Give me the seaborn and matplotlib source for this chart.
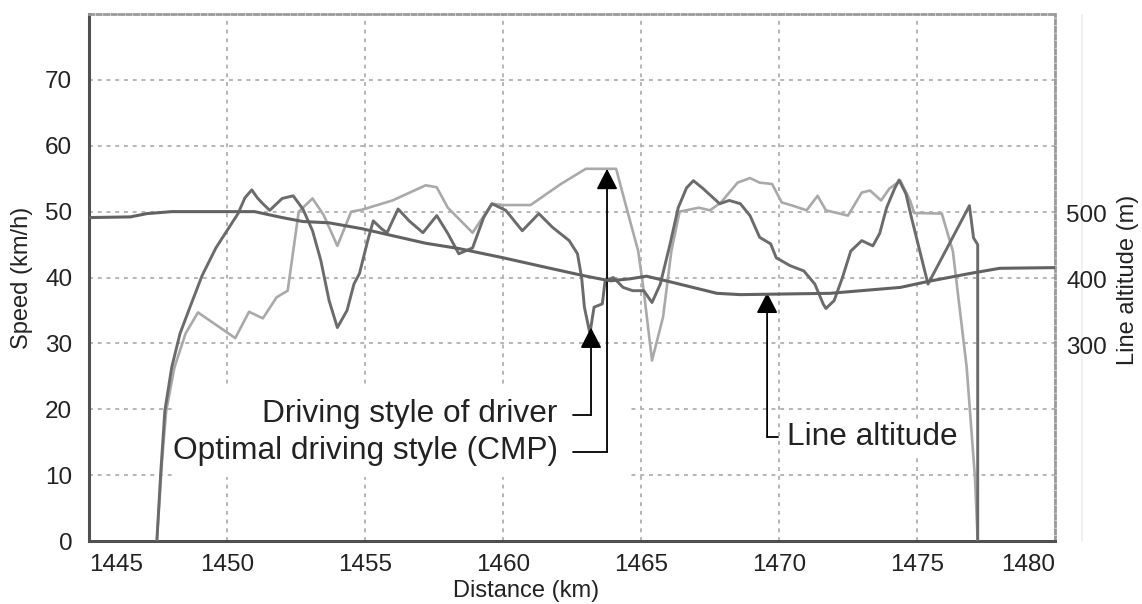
import numpy as np
import pandas as pd
import matplotlib
matplotlib.use("Agg")
import matplotlib.pyplot as plt
import seaborn as sns
from matplotlib.patches import Rectangle, ArrowStyle
from matplotlib.lines import Line2D

# ---------------- data ----------------
cmp_km = [1447.46, 1447.65, 1447.8, 1448.1, 1448.5, 1448.95, 1450.3, 1450.8, 1451.3, 1451.8,
          1452.2, 1452.4, 1452.6, 1453.1, 1453.5, 1454.0, 1454.5, 1454.9, 1456.0, 1457.2,
          1457.6, 1458.0, 1458.9, 1459.6, 1460.0, 1461.0, 1462.1, 1463.0, 1464.1, 1464.5,
          1464.9, 1465.1, 1465.4, 1465.8, 1466.1, 1466.4, 1467.1, 1467.5, 1467.9, 1468.5,
          1468.95, 1469.3, 1469.75, 1470.1, 1470.5, 1471.0, 1471.4, 1471.7, 1472.5, 1473.0,
          1473.3, 1473.7, 1474.0, 1474.4, 1474.75, 1474.9, 1475.9, 1476.3, 1476.8, 1477.1,
          1477.2]
cmp_speed = [0, 12.3, 19.8, 26.4, 31.5, 34.7, 30.8, 34.8, 33.8, 37.0,
             38.0, 44.0, 50.0, 52.0, 49.5, 44.8, 50.0, 50.3, 51.7, 54.0,
             53.7, 50.6, 46.8, 51.2, 51.0, 51.0, 54.2, 56.5, 56.5, 50.2,
             44.0, 38.0, 27.4, 34.0, 44.0, 50.0, 50.6, 50.2, 51.4, 54.4,
             55.1, 54.4, 54.2, 51.4, 50.9, 50.2, 52.4, 50.2, 49.4, 52.9,
             53.2, 51.7, 53.5, 54.7, 51.7, 49.8, 49.7, 44.0, 26.4, 9.7,
             0]

drv_km = [1447.46, 1447.6, 1447.75, 1448.0, 1448.3, 1448.66, 1449.1, 1449.6, 1450.4, 1450.65,
          1450.9, 1451.1, 1451.3, 1451.55, 1452.0, 1452.4, 1452.75, 1453.1, 1453.4, 1453.7,
          1454.0, 1454.35, 1454.6, 1454.8, 1455.1, 1455.3, 1455.6, 1455.8, 1456.2, 1456.6,
          1457.1, 1457.6, 1458.0, 1458.4, 1458.9, 1459.3, 1459.6, 1460.1, 1460.7, 1461.3,
          1461.8, 1462.4, 1462.7, 1462.85, 1462.95, 1463.15, 1463.3, 1463.6, 1463.7, 1464.0,
          1464.35, 1464.7, 1465.1, 1465.4, 1465.7, 1466.05, 1466.35, 1466.65, 1466.9, 1467.25,
          1467.85, 1468.2, 1468.6, 1468.95, 1469.3, 1469.7, 1469.9, 1470.4, 1470.9, 1471.3,
          1471.6, 1471.7, 1472.0, 1472.3, 1472.6, 1473.0, 1473.4, 1473.65, 1473.9, 1474.2,
          1474.35, 1474.6, 1474.8, 1475.4, 1476.9, 1477.05, 1477.2, 1477.2]
drv_speed = [0, 10.3, 19.8, 26.4, 31.5, 35.5, 40.3, 44.5, 49.7, 52.1,
             53.3, 52.1, 51.2, 50.2, 52.0, 52.4, 50.4, 47.1, 42.6, 36.5,
             32.4, 35.0, 39.0, 40.6, 45.6, 48.6, 47.4, 46.8, 50.4, 48.6,
             46.8, 49.4, 46.7, 43.6, 44.5, 49.1, 51.2, 50.2, 47.1, 49.7,
             47.6, 45.6, 43.6, 40.0, 35.5, 31.5, 35.5, 36.0, 39.5, 40.0,
             38.5, 38.0, 38.0, 36.2, 39.0, 45.0, 50.6, 53.6, 54.7, 53.5,
             51.2, 51.7, 51.2, 49.4, 46.1, 45.1, 43.0, 41.8, 41.0, 39.0,
             36.0, 35.3, 36.5, 40.0, 44.0, 45.6, 44.8, 46.7, 50.6, 53.6,
             54.8, 52.7, 49.1, 39.0, 50.9, 46.0, 45.0, 0]

alt_km = [1445.0, 1446.5, 1447.1, 1448.0, 1451.0, 1452.0, 1452.75, 1453.7, 1454.9, 1457.2,
          1458.4, 1460.0, 1461.6, 1462.9, 1463.5, 1463.9, 1464.6, 1465.2, 1466.2, 1467.75,
          1468.6, 1471.85, 1474.4, 1475.4, 1476.9, 1478.0, 1480.0]
alt_m = [494, 495, 500, 503, 503, 494, 488, 486, 477, 455,
         447, 433, 418, 406, 401, 398, 401, 405, 395, 379,
         377, 379, 388, 397, 409, 417, 418]

x_ticks = [1445, 1450, 1455, 1460, 1465, 1470, 1475, 1480]
speed_ticks = [0, 10, 20, 30, 40, 50, 60, 70]
alt_ticks = [300, 400, 500]

# ---------------- style ----------------
sns.set_theme(style="white")
plt.rcParams['font.family'] = ['Liberation Sans', 'DejaVu Sans']
TXT = '#222222'

fig = plt.figure(figsize=(11.42, 6.04), dpi=100)

# faint outer line at the right (behind everything)
fig.add_artist(Line2D([0.9475, 0.9475], [0.1043, 0.975], transform=fig.transFigure,
                      color='#ededed', linewidth=1.2, zorder=-5))

ax = fig.add_axes([0.0779, 0.1043, 0.8459, 0.8725])

ax.set_xlim(1445, 1480)
ax.set_ylim(0, 80)
ax.set_xticks(x_ticks)
ax.set_yticks(speed_ticks + [80])
ax.set_yticklabels([str(v) for v in speed_ticks] + [''])
ax.grid(True, color='#b5b5b5', linestyle=(0, (2, 2.5)), linewidth=1.4)
ax.set_axisbelow(True)
ax.tick_params(axis='both', length=0, labelsize=17.5, labelcolor=TXT)
ax.tick_params(axis='y', pad=12)
ax.tick_params(axis='x', pad=9)
xl = ax.get_xticklabels()
xl[0].set_horizontalalignment('left')
xl[-1].set_horizontalalignment('right')

for s in ['left', 'bottom']:
    ax.spines[s].set_color('#505050')
    ax.spines[s].set_linewidth(2.2)
for s in ['top', 'right']:
    ax.spines[s].set_color('#9a9a9a')
    ax.spines[s].set_linewidth(2.0)
    ax.spines[s].set_linestyle((0, (1.5, 1.2)))

ax.set_xlabel('Distance (km)', fontsize=17, color=TXT, va='center')
ax.set_ylabel('Speed (km/h)', fontsize=17, color=TXT, va='center')
ax.xaxis.set_label_coords(0.452, -0.095)
ax.yaxis.set_label_coords(-0.069, 0.50)

# white area behind the annotation texts (hides grid there)
ax.add_patch(Rectangle((1448.12, 9.7), 16.41, 14.2, facecolor='white',
                       edgecolor='none', zorder=1.5))

# speed curves
sns.lineplot(x=cmp_km, y=cmp_speed, ax=ax, sort=False, estimator=None,
             color='#a9a9a9', linewidth=1.9, zorder=3)
sns.lineplot(x=drv_km, y=drv_speed, ax=ax, sort=False, estimator=None,
             color='#6b6b6b', linewidth=2.1, zorder=4)

# altitude on twin axis
ax2 = ax.twinx()
ax2.set_ylim(3, 803)
ax2.set_yticks(alt_ticks)
for s in ax2.spines.values():
    s.set_visible(False)
ax2.tick_params(axis='y', length=0, labelsize=17.5, labelcolor=TXT, pad=8)
sns.lineplot(x=alt_km, y=alt_m, ax=ax2, sort=False, estimator=None,
             color='#626262', linewidth=2.2, zorder=3)
ax2.set_ylabel('Line altitude (m)', fontsize=17, color=TXT, va='center', ha='center')
ax2.yaxis.set_label_coords(1.0755, 0.495)
ax2.set_xlim(1445, 1480)

# annotations
head = ArrowStyle('-|>', head_length=0.7, head_width=0.36)
def bent_arrow(x0, y_text, x_corner, y_tip):
    ax.plot([x0, x_corner], [y_text, y_text], color='black', linewidth=1.3, zorder=6)
    ax.annotate('', xy=(x_corner, y_tip), xytext=(x_corner, y_text),
                arrowprops=dict(arrowstyle=head, color='black', lw=1.3,
                                mutation_scale=18, shrinkA=0, shrinkB=0),
                zorder=6)

bent_arrow(1462.54, 19.1, 1463.19, 32.4)
bent_arrow(1462.54, 13.5, 1463.77, 56.5)
bent_arrow(1469.96, 15.8, 1469.57, 37.7)

ax.text(1461.96, 19.3, 'Driving style of driver', ha='right', va='center',
        fontsize=22.8, color=TXT, zorder=7)
ax.text(1462.0, 13.6, 'Optimal driving style (CMP)', ha='right', va='center',
        fontsize=22.8, color=TXT, zorder=7)
ax.text(1470.29, 15.8, 'Line altitude', ha='left', va='center',
        fontsize=22.8, color=TXT, zorder=7,
        bbox=dict(facecolor='white', edgecolor='none', pad=2))

fig.savefig('out.png', dpi=100)
